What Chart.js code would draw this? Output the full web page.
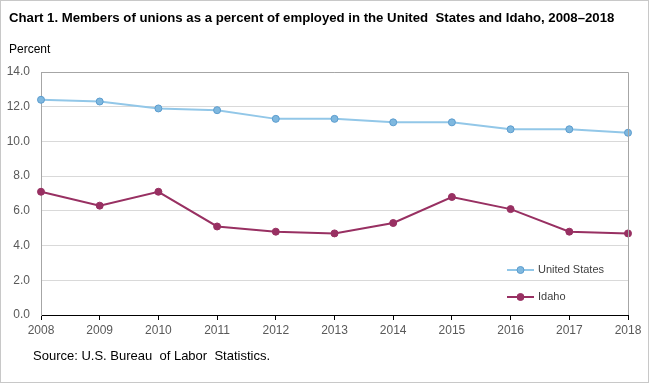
<!DOCTYPE html>
<html><head><meta charset="utf-8">
<script src="https://cdn.jsdelivr.net/npm/chart.js@4/dist/chart.umd.min.js"></script>
<style>html,body{margin:0;padding:0;background:#fff}#wrap{width:650px;height:384px;position:relative}</style>
</head><body><div id="wrap"><canvas id="c" width="650" height="384"></canvas></div>
<script>
const years = ['2008','2009','2010','2011','2012','2013','2014','2015','2016','2017','2018'];
const unitedStates = [12.4,12.3,11.9,11.8,11.3,11.3,11.1,11.1,10.7,10.7,10.5];
const idaho = [7.1,6.3,7.1,5.1,4.8,4.7,5.3,6.8,6.1,4.8,4.7];
const titleText = 'Chart 1. Members of unions as a percent of employed in the United  States and Idaho, 2008–2018';
const yAxisTitle = 'Percent';
const sourceText = 'Source: U.S. Bureau  of Labor  Statistics.';
const FONT = 'Arial, "Liberation Sans", sans-serif';

const extras = {
  id: 'extras',
  beforeDraw(chart) {
    const ctx = chart.ctx;
    ctx.save();
    ctx.fillStyle = '#fff'; ctx.fillRect(0,0,chart.width,chart.height);
    ctx.restore();
  },
  afterDatasetsDraw(chart) {
    const ctx = chart.ctx, a = chart.chartArea;
    ctx.save();
    ctx.strokeStyle = '#a6a6a6'; ctx.lineWidth = 1;
    ctx.beginPath();
    ctx.moveTo(a.left, Math.round(a.top)+0.5); ctx.lineTo(Math.round(a.right)+0.5, Math.round(a.top)+0.5);
    ctx.lineTo(Math.round(a.right)+0.5, a.bottom);
    ctx.stroke();
    ctx.strokeStyle = '#c8c8c8';
    ctx.strokeRect(0.5,0.5,chart.width-2,chart.height-2);
    ctx.fillStyle = '#000'; ctx.textBaseline = 'middle'; ctx.textAlign = 'left';
    ctx.font = 'bold 13.2px ' + FONT;
    ctx.fillText(titleText, 9, 18);
    ctx.font = '12px ' + FONT;
    ctx.fillText(yAxisTitle, 9, 50);
    ctx.font = '13px ' + FONT;
    ctx.fillText(sourceText, 33, 356);
    const items = chart.data.datasets;
    const ys = [270, 297];
    items.forEach((ds, i) => {
      const y = ys[i];
      ctx.strokeStyle = ds.borderColor; ctx.lineWidth = ds.borderWidth;
      ctx.beginPath(); ctx.moveTo(507, y); ctx.lineTo(534, y); ctx.stroke();
      ctx.beginPath(); ctx.arc(520.5, y, 3.5, 0, Math.PI*2);
      ctx.fillStyle = ds.pointBackgroundColor; ctx.fill();
      ctx.lineWidth = 1; ctx.strokeStyle = ds.pointBorderColor; ctx.stroke();
      ctx.fillStyle = '#404040'; ctx.font = '11px ' + FONT;
      ctx.fillText(ds.label, 538, y);
    });
    ctx.restore();
  }
};

new Chart(document.getElementById('c'), {
  type: 'line',
  data: {
    labels: years,
    datasets: [
      {label:'United States', data: unitedStates, borderColor:'#92c7e8', borderWidth:2,
       pointBackgroundColor:'#7fb8df', pointBorderColor:'#5c9dcf', pointRadius:3.5, pointBorderWidth:1, tension:0},
      {label:'Idaho', data: idaho, borderColor:'#983062', borderWidth:2,
       pointBackgroundColor:'#983062', pointBorderColor:'#983062', pointRadius:3.5, pointBorderWidth:1, tension:0}
    ]
  },
  options: {
    responsive:false, animation:false,
    layout:{padding:{left:0,right:22,top:72,bottom:0}},
    plugins:{legend:{display:false}, tooltip:{enabled:false}, title:{display:false}},
    scales:{
      x:{type:'category', offset:false,
         grid:{display:true, drawOnChartArea:false, drawTicks:true, tickLength:5, color:'#000'},
         border:{display:true, color:'#000', width:1},
         ticks:{padding:3, color:'#595959', font:{family:FONT, size:12}, maxRotation:0, autoSkip:false},
         afterFit(s){ s.height = 69; }
      },
      y:{min:0, max:14,
         grid:{color:'#d9d9d9', drawTicks:false},
         border:{display:true, color:'#a6a6a6', width:1},
         ticks:{stepSize:2, padding:11, color:'#595959', font:{family:FONT, size:12},
                callback:(v)=>Number(v).toFixed(1)},
         afterFit(s){ s.width = 41; }
      }
    }
  },
  plugins:[extras]
});
</script></body></html>
